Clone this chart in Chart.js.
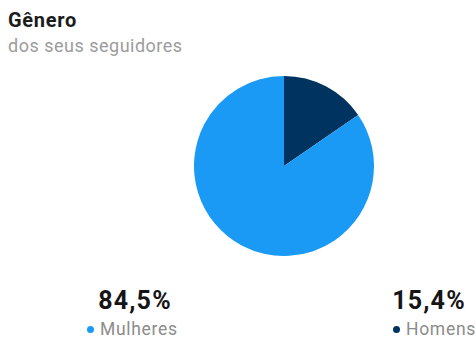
<!DOCTYPE html>
<html>
<head>
<meta charset="utf-8">
<script src="https://cdn.jsdelivr.net/npm/chart.js@4"></script>
<style>
  body { margin: 0; width: 476px; height: 340px; background: #fff; font-family: Roboto, sans-serif; overflow: hidden; position: relative; }
  .title { position: absolute; left: 8px; top: 10px; font-size: 20px; line-height: 20px; font-weight: 700; color: #1c1c1c; letter-spacing: 0.7px; }
  .subtitle { position: absolute; left: 8px; top: 37px; font-size: 18px; line-height: 18px; color: #9c9c9c; letter-spacing: 0.5px; }
  .pie { position: absolute; left: 194px; top: 76px; width: 180px; height: 180px; }
  .stat { position: absolute; white-space: nowrap; }
  .val { top: 288px; width: 160px; text-align: center; font-size: 25px; line-height: 25px; font-weight: 700; color: #151515; letter-spacing: 1.2px; }
  .lbl { top: 320px; font-size: 17.5px; line-height: 18px; color: #8c8c8c; letter-spacing: 0.7px; }
  .dot { display: inline-block; width: 7px; height: 7px; border-radius: 50%; margin-right: 6px; vertical-align: 2px; }
</style>
</head>
<body>
<div class="title">Gênero</div>
<div class="subtitle">dos seus seguidores</div>
<div class="pie"><canvas id="pieChart"></canvas></div>
<div id="stats"></div>
<script>
const categories = ['Homens', 'Mulheres'];
const shares = [15.4, 84.5];
const colors = ['#00335f', '#1a9af4'];
// where each percentage block sits under the pie
const valueCenters = [429, 135];
const labelLefts = [393, 87];

const stats = document.getElementById('stats');
categories.forEach((name, i) => {
  const val = document.createElement('div');
  val.className = 'stat val';
  val.style.left = (valueCenters[i] - 80) + 'px';
  val.textContent = shares[i].toFixed(1).replace('.', ',') + '%';
  stats.appendChild(val);

  const lbl = document.createElement('div');
  lbl.className = 'stat lbl';
  lbl.style.left = labelLefts[i] + 'px';
  lbl.innerHTML = '<span class="dot" style="background:' + colors[i] + '"></span>' + name;
  stats.appendChild(lbl);
});

new Chart(document.getElementById('pieChart'), {
  type: 'pie',
  data: {
    labels: categories,
    datasets: [{
      data: shares,
      backgroundColor: colors,
      borderWidth: 0,
    }],
  },
  options: {
    responsive: true,
    maintainAspectRatio: false,
    animation: false,
    layout: { padding: 0 },
    plugins: {
      legend: { display: false },
      tooltip: { enabled: false },
    },
  },
});
</script>
</body>
</html>
